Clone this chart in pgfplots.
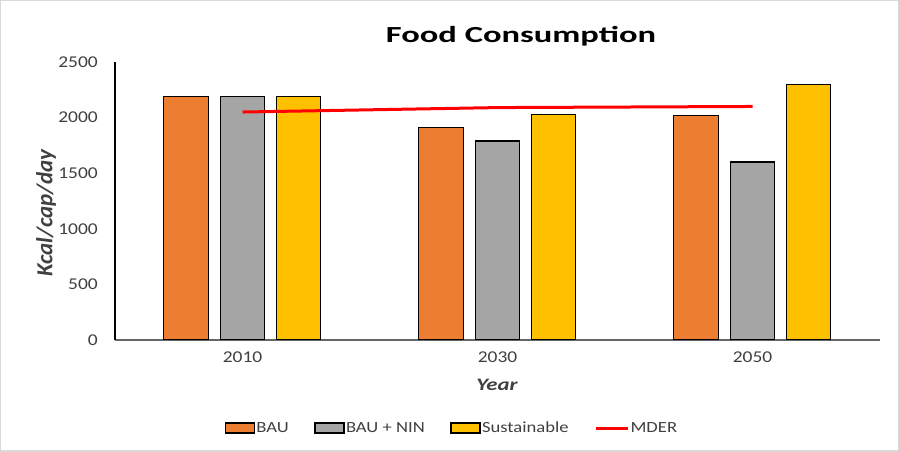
\documentclass[border=0pt]{standalone}
\usepackage{pgfplots}
\pgfplotsset{compat=1.18}
\usepackage{fontspec}
\setmainfont{Carlito}
\newfontfamily\tickfont[FakeStretch=1.18]{Carlito}
\newfontfamily\legfont[FakeStretch=1.2]{Carlito}
\newfontfamily\titlefont[FakeStretch=1.5]{Carlito}
\newfontfamily\xlabfont[FakeStretch=1.3]{Carlito}
\definecolor{bau}{HTML}{ED7D31}
\definecolor{nin}{HTML}{A5A5A5}
\definecolor{sus}{HTML}{FFC000}
\definecolor{txt}{HTML}{404040}
\begin{document}
\begin{tikzpicture}[x=1bp,y=1bp]
\fill[white] (0,0) rectangle (899,452);
\draw[gray!30, line width=1.5bp] (0.75,0.75) rectangle (898.25,451.25);
\begin{axis}[
  at={(115bp,112bp)}, anchor=south west,
  scale only axis, width=765bp, height=278bp,
  xmin=-0.5, xmax=2.5, ymin=0, ymax=2500,
  xtick={0,1,2}, xticklabels={2010,2030,2050},
  ytick={0,500,1000,1500,2000,2500},
  major tick length=0pt,
  axis x line*=bottom, axis y line*=left,
  x axis line style={draw=gray!80!black, line width=1.8bp, -},
  y axis line style={draw=black, line width=1.2bp, -},
  xticklabel style={font=\tickfont\fontsize{16.5bp}{18bp}\selectfont, text=txt, inner sep=0pt, anchor=north, yshift=-12bp},
  yticklabel style={font=\tickfont\fontsize{16.5bp}{18bp}\selectfont, text=txt, inner sep=0pt, anchor=east, xshift=-17bp},
  /pgf/number format/assume math mode=true,
  scaled y ticks=false,
  yticklabel={\pgfmathprintnumber[fixed,1000 sep={}]{\tick}},
  ybar, bar width=44.5bp,
  legend columns=4,
  legend style={at={(0.440,-0.317)}, anchor=center, draw=none, fill=none,
    font=\legfont\fontsize{15.5bp}{17bp}\selectfont, text=txt,
    nodes={inner sep=1.5bp},
    /tikz/every even column/.append style={column sep=24bp}},
  legend image code/.code={\draw[#1, draw=black, line width=1.3bp] (0bp,-5bp) rectangle (29bp,5bp);},
]
\addplot[fill=bau, draw=black, line width=1.3bp, bar shift=-56.5bp] coordinates {(0,2190) (1,1910) (2,2020)};
\addlegendentry{BAU}
\addplot[fill=nin, draw=black, line width=1.3bp, bar shift=0bp] coordinates {(0,2190) (1,1790) (2,1600)};
\addlegendentry{BAU + NIN}
\addplot[fill=sus, draw=black, line width=1.3bp, bar shift=56bp] coordinates {(0,2190) (1,2030) (2,2300)};
\addlegendentry{Sustainable}
\addplot[sharp plot, draw=red, line width=3bp, mark=none,
  legend image code/.code={\draw[red, line width=3bp] (0bp,0bp) -- (32bp,0bp);}]
  coordinates {(0,2050) (1,2090) (2,2100)};
\addlegendentry{MDER}
\end{axis}
\node[font=\titlefont\bfseries\fontsize{23bp}{26bp}\selectfont, inner sep=0pt] at (521,416) {Food Consumption};
\node[font=\xlabfont\bfseries\itshape\fontsize{17.5bp}{19bp}\selectfont, text=txt, inner sep=0pt] at (497,67) {Year};
\node[font=\bfseries\itshape\fontsize{23bp}{25bp}\selectfont, text=txt, inner sep=0pt, rotate=90] at (46,239) {Kcal/cap/day};
\end{tikzpicture}
\end{document}
